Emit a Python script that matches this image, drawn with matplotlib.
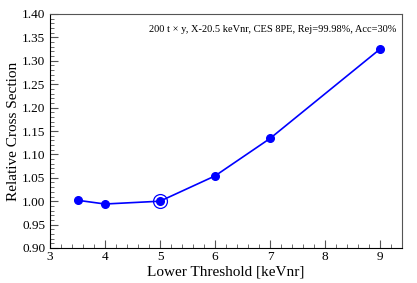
import matplotlib
matplotlib.use('Agg')
import matplotlib.pyplot as plt
from matplotlib.ticker import MultipleLocator

plt.rcParams['font.family'] = ['Liberation Serif', 'DejaVu Serif']

thresholds = [3.5, 4, 5, 6, 7, 9]
xsec = [1.002, 0.994, 1.000, 1.054, 1.134, 1.325]
ref_x = [5]
ref_y = [1.000]
label = '200 t \u00d7 y, X-20.5 keVnr, CES 8PE, Rej=99.98%, Acc=30%'

fig = plt.figure(figsize=(4.17, 2.83), dpi=100)
ax = fig.add_axes([50/417, 35/283, 352/417, 234/283])

ax.plot(thresholds, xsec, color='#0000ff', lw=1.2, marker='o', ms=5.5)
ax.plot(ref_x, ref_y, 'o', mfc='none', mec='#0000ff', ms=10, mew=0.9)

ax.set_xlim(3, 9.4)
ax.set_ylim(0.9, 1.4)
ax.xaxis.set_major_locator(MultipleLocator(1))
ax.xaxis.set_minor_locator(MultipleLocator(0.2))
ax.yaxis.set_major_locator(MultipleLocator(0.05))
ax.yaxis.set_minor_locator(MultipleLocator(0.01))
ax.yaxis.set_major_formatter(matplotlib.ticker.FormatStrFormatter('%.2f'))
ax.tick_params(which='both', direction='in', top=False, right=False, labelsize=9.5, color='#555555')
ax.tick_params(which='major', length=6)
ax.tick_params(which='minor', length=3)
ax.tick_params(axis='x', pad=2)
for s in ax.spines.values():
    s.set_color('#555555')
ax.spines['left'].set_color('black')
ax.spines['bottom'].set_color('black')

ax.set_xlabel('Lower Threshold [keVnr]', fontsize=11, labelpad=2)
ax.set_ylabel('Relative Cross Section', fontsize=11, labelpad=1)
ax.text(0.985, 0.955, label, transform=ax.transAxes, ha='right', va='top', fontsize=7.5)

fig.savefig('out.png', dpi=100)
